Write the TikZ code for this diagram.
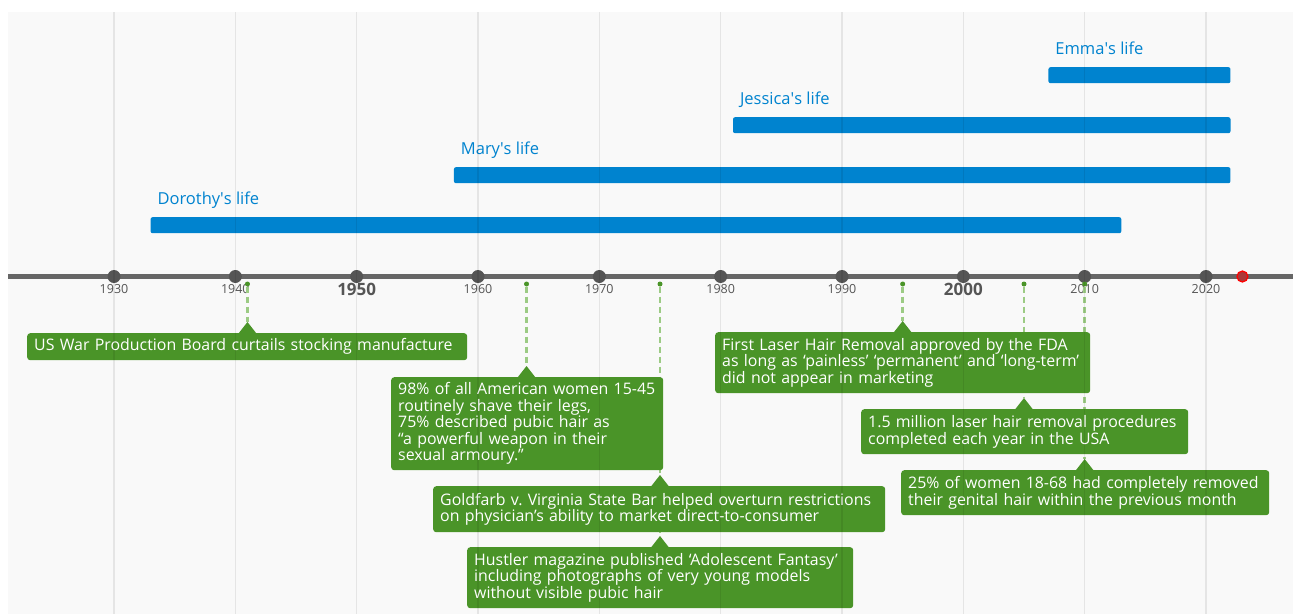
\documentclass[tikz,border=0pt]{standalone}
\usepackage{fontspec}
\setmainfont{Open Sans}
\usetikzlibrary{positioning}

\definecolor{panelgray}{HTML}{F9F9F9}
\definecolor{axisgray}{HTML}{666666}
\definecolor{dotgray}{HTML}{555555}
\definecolor{lifeblue}{HTML}{0083CF}
\definecolor{evgreen}{HTML}{4A9428}
\definecolor{dashgreen}{HTML}{9CCB84}

% x position of a year on the axis
\newcommand{\yearx}[1]{114+(#1-1930)*12.1333}

\begin{document}
\begin{tikzpicture}[x=1pt,y=-1pt,
  lifebar/.style={fill=lifeblue, rounded corners=2pt, minimum height=16pt,
    inner sep=0pt, anchor=north west},
  lifetext/.style={text=lifeblue, font=\fontsize{16.5}{18}\selectfont,
    inner sep=0pt, text height=12pt, text depth=4pt},
  yeardot/.style={circle, fill=dotgray, inner sep=0pt, minimum size=13pt},
  nowdot/.style={circle, draw=red, fill=red!45!axisgray,
    line width=1.2pt, inner sep=0pt, minimum size=11pt},
  yearlbl/.style={text=dotgray, font=\fontsize{12.5}{13}\selectfont, inner sep=0pt},
  bigyear/.style={text=dotgray, font=\fontsize{17}{18}\bfseries, inner sep=0pt},
  evdot/.style={circle, fill=evgreen, inner sep=0pt, minimum size=5pt},
  evline/.style={dashgreen, line width=2.5pt, dash pattern=on 6pt off 4pt},
  callout/.style={fill=evgreen, text=white, rounded corners=3pt, align=left,
    font=\fontsize{15.9}{16.5}\selectfont, inner xsep=7pt, inner ysep=0pt,
    anchor=north west},
  gridline/.style={black, opacity=0.08, line width=1.5pt}]

  \useasboundingbox (0,0) rectangle (1293,614);

  % Panel
  \fill[panelgray] (8,12) rectangle (1293,614);

  % Lives
  \node[lifebar, minimum width=970.7pt] (dorothy) at ({\yearx{1933}},217) {};
  \node[lifebar, minimum width=776.5pt] (mary) at ({\yearx{1958}},167) {};
  \node[lifebar, minimum width=497.5pt] (jessica) at ({\yearx{1981}},117) {};
  \node[lifebar, minimum width=182pt] (emma) at ({\yearx{2007}},67) {};

  \node[lifetext, above right=8pt and 7pt of dorothy.north west] {Dorothy\textquotesingle s life};
  \node[lifetext, above right=8pt and 7pt of mary.north west] {Mary\textquotesingle s life};
  \node[lifetext, above right=8pt and 7pt of jessica.north west] {Jessica\textquotesingle s life};
  \node[lifetext, above right=8pt and 7pt of emma.north west] {Emma\textquotesingle s life};

  % Axis
  \draw[axisgray, line width=5.5pt] (8,276.5) -- (1293,276.5);
  \foreach \yr/\st in {1930/yearlbl,1940/yearlbl,1950/bigyear,1960/yearlbl,
      1970/yearlbl,1980/yearlbl,1990/yearlbl,2000/bigyear,2010/yearlbl,2020/yearlbl}
  {
    \node[yeardot] (y\yr) at ({\yearx{\yr}},276.5) {};
    \node[\st] (l\yr) at ({\yearx{\yr}},289.5) {\yr};
  }
  \node[nowdot] (now) at ({\yearx{2023}},276.5) {};

  % Event marks and pointer tips
  \foreach \ev/\yr/\tip in {41/1941/322, 64/1964/366, 75a/1975/475, 75b/1975/536,
      95/1995/321, 05/2005/398, 10/2010/459}
  {
    \coordinate (t\ev) at ({\yearx{\yr}},\tip);
  }
  \foreach \ev/\yr in {41/1941, 64/1964, 75/1975, 95/1995, 05/2005, 10/2010}
    \node[evdot] (d\ev) at ({\yearx{\yr}},284) {};

  % Dashed connectors
  \draw[evline] (d41) -- (t41);
  \draw[evline] (d64) -- (t64);
  \draw[evline] (d75) -- (t75b);
  \draw[evline] (d95) -- (t95);
  \draw[evline] (d05) -- (t05);
  \draw[evline] (d10) -- (t10);

  % Callouts
  \node[callout, text width=426pt, minimum height=27pt] (c41) at (27,333)
    {US War Production Board curtails stocking manufacture};
  \node[callout, text width=258pt, minimum height=93pt] (c64) at (391,377)
    {98\% of all American women 15-45\\routinely shave their legs,\\75\% described pubic hair as\\“a powerful weapon in their\\sexual armoury.”};
  \node[callout, text width=438pt, minimum height=46pt] (c75a) at (433,486)
    {Goldfarb v.\ Virginia State Bar helped overturn restrictions\\on physician’s ability to market direct-to-consumer};
  \node[callout, text width=372pt, minimum height=61pt] (c75b) at (467,547)
    {Hustler magazine published ‘Adolescent Fantasy’\\including photographs of very young models\\without visible pubic hair};
  \node[callout, text width=361pt, minimum height=61pt] (c95) at (715,332)
    {First Laser Hair Removal approved by the FDA\\as long as ‘painless’ ‘permanent’ and ‘long-term’\\did not appear in marketing};
  \node[callout, text width=313pt, minimum height=45pt] (c05) at (861,409)
    {1.5 million laser hair removal procedures\\completed each year in the USA};
  \node[callout, text width=354pt, minimum height=45pt] (c10) at (901,470)
    {25\% of women 18-68 had completely removed\\their genital hair within the previous month};

  % Pointers
  \foreach \ev in {41,64,75a,75b,95,05,10}
    \fill[evgreen] (t\ev) -- ++(-9,11.5) -- ++(18,0) -- cycle;

  % Grid
  \foreach \yr in {1930,1940,...,2020}
    \draw[gridline] ({\yearx{\yr}},12) -- ({\yearx{\yr}},614);

\end{tikzpicture}
\end{document}
